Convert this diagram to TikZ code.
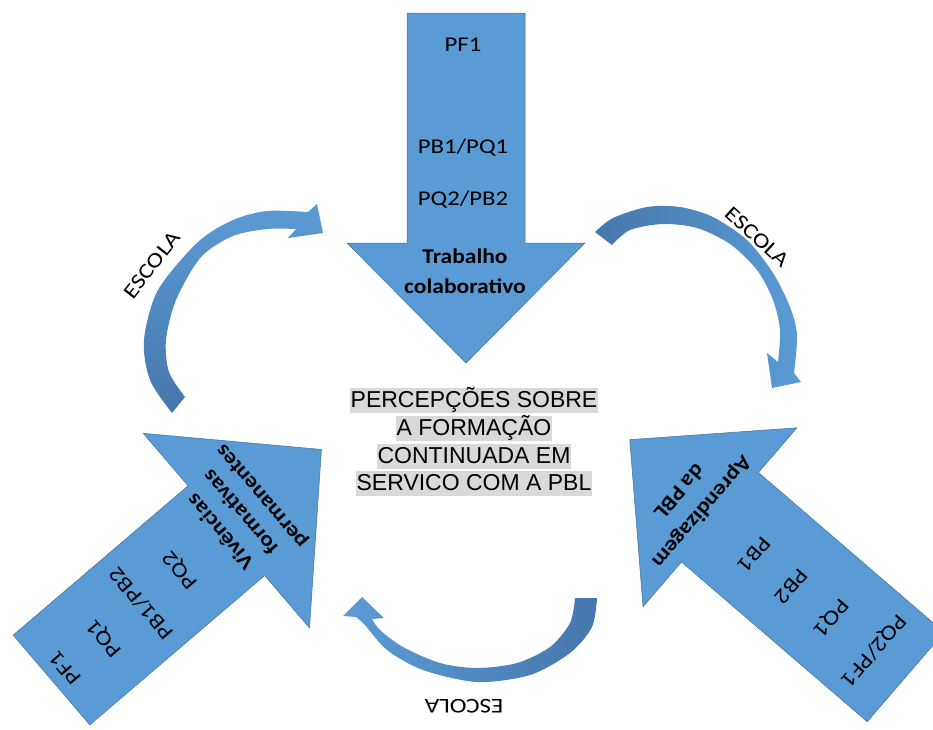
\documentclass[tikz,border=0pt]{standalone}
\usepackage{fontspec}
\setmainfont{Carlito}
\newfontfamily\arialfont{Liberation Sans}
\definecolor{arrowblue}{HTML}{5B9BD5}
\definecolor{arrowedge}{HTML}{41719C}
\definecolor{arrowdark}{HTML}{4677AD}
\definecolor{hilite}{HTML}{D9D9D9}
\newcommand{\bigarrow}[3]{\filldraw[blk] (-59,0) -- (59,0) -- (59,#1) -- (#2,#1) -- (0,#1+#3) -- (-#2,#1) -- (-59,#1) -- cycle;}

\begin{document}
\begin{tikzpicture}[x=1pt,y=-1pt,
  blk/.style={fill=arrowblue,draw=arrowedge,line width=0.5pt},
  lbl/.style={font=\fontsize{21}{25}\selectfont,inner sep=0pt,xscale=1.18,transform shape},
  blbl/.style={font=\fontsize{21}{25}\selectfont\bfseries,inner sep=0pt,xscale=1.12,transform shape},
  school/.style={font=\fontsize{21}{25}\selectfont,inner sep=0pt,xscale=1.2},
  hl/.style={font=\arialfont\fontsize{23}{28}\selectfont,fill=hilite,inner xsep=1pt,inner ysep=0pt,text height=19pt,text depth=6pt,anchor=base}]
  \clip (0,0) rectangle (933,729);

  \begin{scope}[shift={(466,13)}]
    \bigarrow{230}{119}{120}
    \node[lbl] (tpf) at (-3,32) {PF1};
    \node[lbl] (tpb) at (-3,135) {PB1/PQ1};
    \node[lbl] (tpq) at (-3,187) {PQ2/PB2};
    \node[blbl] (tb1) at (-1,243) {Trabalho};
    \node[blbl] (tb2) at (-1,273) {colaborativo};
  \end{scope}

  \begin{scope}[shift={(51.5,680)},rotate=130.5]
    \bigarrow{230}{128}{125}
    \node[lbl] (lpf) at (0,18) {PF1};
    \node[lbl] (lpq) at (-3,68) {PQ1};
    \node[lbl] (lpb) at (0,118) {PB1/PB2};
    \node[lbl] (lpq2) at (0,170) {PQ2};
    \node[blbl] (lb1) at (3,224) {Vivências};
    \node[blbl] (lb2) at (5,252) {formativas};
    \node[blbl] (lb3) at (3,280) {permanentes};
  \end{scope}

  \begin{scope}[shift={(905.7,677)},rotate=229.3]
    \bigarrow{245}{118}{119}
    \node[lbl] (rpq) at (1,42) {PQ2/PF1};
    \node[lbl] (rpq1) at (4,96) {PQ1};
    \node[lbl] (rpb2) at (6,146) {PB2};
    \node[lbl] (rpb1) at (6,195) {PB1};
    \node[blbl] (rb1) at (8,263) {Aprendizagem};
    \node[blbl] (rb2) at (7,292) {da PBL};
  \end{scope}

  \shade[bottom color=arrowdark,top color=arrowblue]
    plot[smooth] coordinates {(172,413) (150,380) (144,340) (158,290) (198,242) (233,220) (267,211) (308,212)}
    -- (317,204) -- (323,233) -- (288,238)
    -- plot[smooth] coordinates {(296,229) (267,229) (233,236) (201,257) (176,300) (166,340) (169,372) (185,397)} -- cycle;
  \shade[left color=arrowdark,right color=arrowblue]
    plot[smooth] coordinates {(595,232) (613,218) (647,207) (680,207) (713,217) (747,240) (773,273) (790,307) (797,335) (794,373)}
    -- (801,382) -- (772,388) -- (767,353)
    -- plot[smooth] coordinates {(778,362) (780,330) (773,300) (757,270) (730,244) (697,228) (663,224) (630,230) (612,245)} -- cycle;
  \shade[right color=arrowdark,left color=arrowblue]
    plot[smooth] coordinates {(597,598) (592,627) (570,653) (530,675) (477,682) (423,670) (387,650) (365,625) (356,617)}
    -- (343,616) -- (362,597) -- (384,618)
    -- plot[smooth] coordinates {(372,619) (380,630) (403,647) (440,663) (477,668) (517,663) (550,647) (570,623) (575,598)} -- cycle;

  \node[rotate=52,school] (esc1) at (152,265) {ESCOLA};
  \node[rotate=-42.5,school] (esc2) at (757,237) {ESCOLA};
  \node[rotate=180,school] (esc3) at (464,706) {ESCOLA};

  \node[hl] (c1) at (474,407) {PERCEPÇÕES SOBRE};
  \node[hl] (c2) at (474,435) {A FORMAÇÃO};
  \node[hl] (c3) at (474,463) {CONTINUADA EM};
  \node[hl] (c4) at (474,490) {SERVICO COM A PBL};
\end{tikzpicture}
\end{document}
